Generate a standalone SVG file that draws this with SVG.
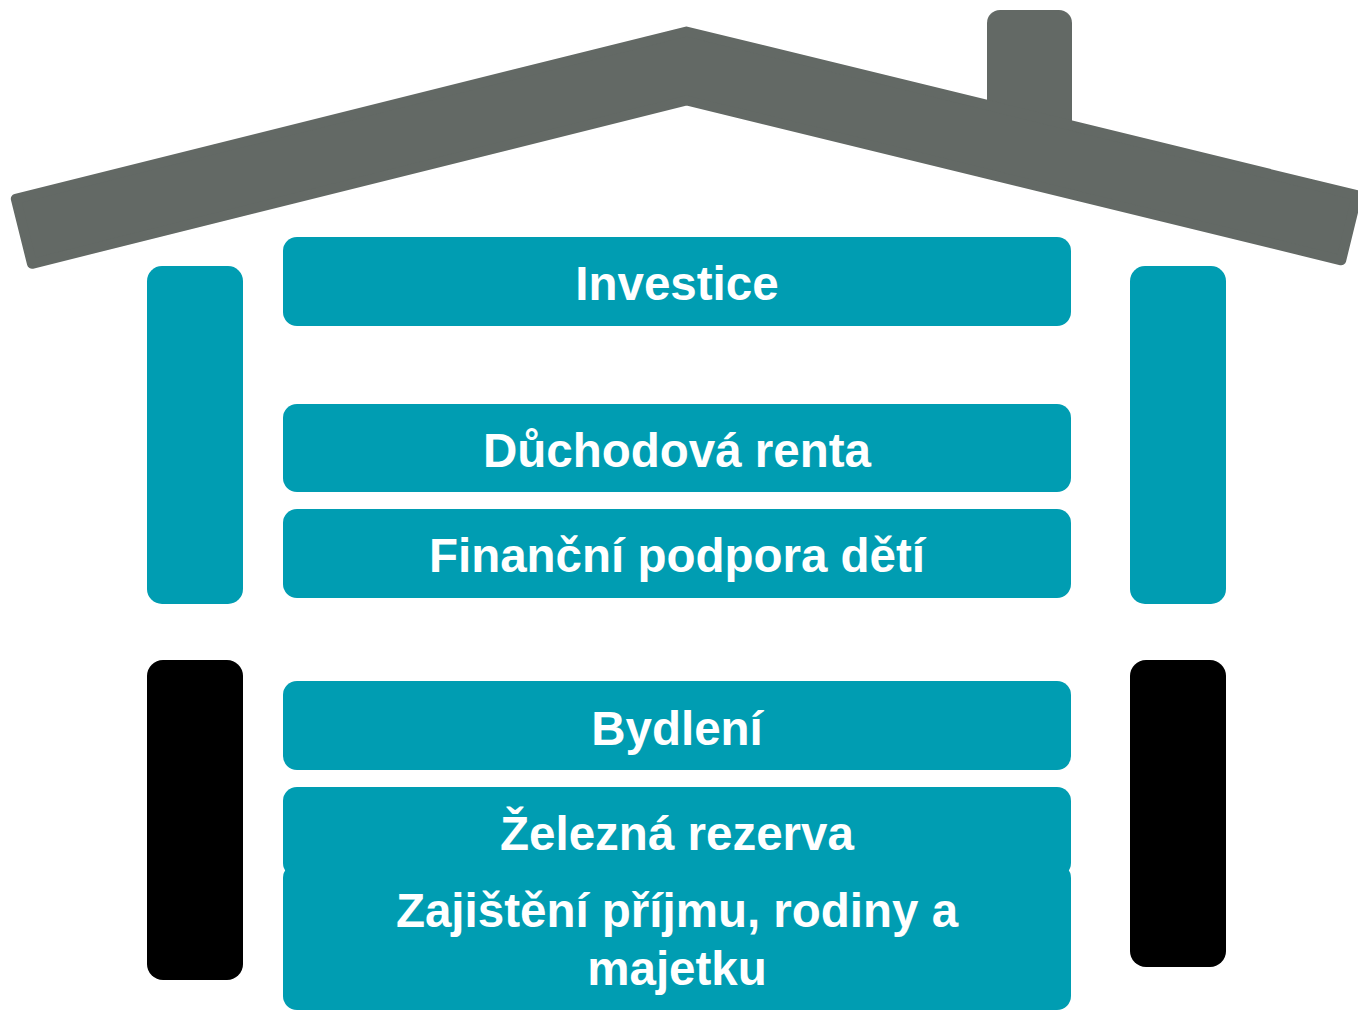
<svg xmlns="http://www.w3.org/2000/svg" width="1358" height="1010" viewBox="0 0 1358 1010">
<style>
.box{fill:#009db2}
.pillar{fill:#009db2}
.dark{fill:#000000}
.roof{fill:#636965;stroke:#636965;stroke-width:10;stroke-linejoin:round}
.lbl{fill:#ffffff;font-family:"Liberation Sans",Arial,sans-serif;font-weight:bold;font-size:47.5px;text-anchor:middle}
</style>
<rect width="1358" height="1010" fill="#ffffff"/>
<g id="roof">
<rect x="987" y="10" width="85" height="130" rx="13" fill="#636965"/>
<polygon class="roof" points="15.8,198.8 686.4,31.5 1357.1,195.3 1341.2,260.3 686.6,100.5 32,263.8"/>
</g>
<g id="pillar-left-top"><rect class="pillar" x="147" y="266" width="96" height="338" rx="15"/></g>
<g id="pillar-right-top"><rect class="pillar" x="1130" y="266" width="96" height="338" rx="15"/></g>
<g id="pillar-left-bottom"><rect class="dark" x="147" y="660" width="96" height="320" rx="16"/></g>
<g id="pillar-right-bottom"><rect class="dark" x="1130" y="660" width="96" height="307" rx="16"/></g>
<g id="investice"><rect class="box" x="283" y="237" width="788" height="89" rx="14"/><text class="lbl" x="677" y="300">Investice</text></g>
<g id="duchodova"><rect class="box" x="283" y="404" width="788" height="88" rx="14"/><text class="lbl" x="677" y="467">Důchodová renta</text></g>
<g id="financni"><rect class="box" x="283" y="509" width="788" height="89" rx="14"/><text class="lbl" x="677" y="572">Finanční podpora dětí</text></g>
<g id="bydleni"><rect class="box" x="283" y="681" width="788" height="89" rx="14"/><text class="lbl" x="677" y="745">Bydlení</text></g>
<g id="zelezna"><rect class="box" x="283" y="787" width="788" height="90" rx="14"/><text class="lbl" x="677" y="850">Železná rezerva</text></g>
<g id="zajisteni"><rect class="box" x="283" y="864" width="788" height="146" rx="14"/><text class="lbl" x="677" y="927">Zajištění příjmu, rodiny a</text><text class="lbl" x="677" y="985">majetku</text></g>
<g id="connectors"/>
</svg>
